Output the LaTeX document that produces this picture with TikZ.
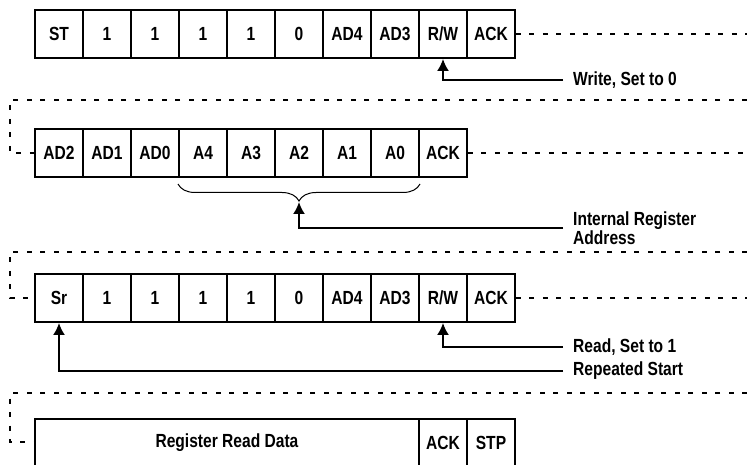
\documentclass[tikz,border=0pt]{standalone}
\usepackage{fontspec}
\setmainfont{Liberation Sans}[FakeStretch=0.82]
\usetikzlibrary{decorations.pathreplacing,arrows.meta}

\newcommand{\busfont}{\fontsize{19}{18.5}\selectfont\bfseries}

\begin{document}
\begin{tikzpicture}[x=1pt,y=-1pt,
	cell/.style={draw,line width=1.9pt,minimum width=48pt,minimum height=48pt,inner sep=0pt,font=\busfont},
	lbl/.style={anchor=west,inner sep=0pt,align=left,font=\busfont},
	link/.style={dash pattern=on 5pt off 8.5pt,line width=1.6pt},
	pointer/.style={-{Latex[length=12pt,width=12pt]},line width=1.9pt}]
\useasboundingbox (0,0) rectangle (747,465);
\clip (0,0) rectangle (747,465);

% first byte: slave address, write
\foreach \t [count=\i from 0] in {ST,1,1,1,1,0,AD4,AD3,{R/W},ACK}
{
	\path (59+48*\i,34) node[cell] (ra\i) {\t};
}
\draw[link] (ra9.east) -- (747,34);
\path (573,80) node[lbl] (wr) {Write, Set to 0};
\draw[pointer] ([xshift=-10pt]wr.west) -| (ra8.south);

% second byte: register address
\draw[link] (747,100) -- (10,100) -- (10,153) -- (35,153);
\foreach \t [count=\i from 0] in {AD2,AD1,AD0,A4,A3,A2,A1,A0,ACK}
{
	\path (59+48*\i,153) node[cell] (rb\i) {\t};
}
\draw[link] (rb8.east) -- (747,153);
\draw[line width=1pt,decorate,decoration={brace,amplitude=17pt}] (420,184) -- (178,184);
\coordinate (btip) at (299,202);
\path (573,228) node[lbl] (ira) {Internal Register\\Address};
\draw[pointer] ([xshift=-10pt]ira.west) -| (btip);

% third byte: repeated start, read
\draw[link] (747,252) -- (10,252) -- (10,298) -- (35,298);
\foreach \t [count=\i from 0] in {Sr,1,1,1,1,0,AD4,AD3,{R/W},ACK}
{
	\path (59+48*\i,298) node[cell] (rc\i) {\t};
}
\draw[link] (rc9.east) -- (747,298);
\path (573,347) node[lbl] (rd) {Read, Set to 1};
\path (573,371) node[lbl] (rs) {Repeated Start};
\draw[pointer] ([xshift=-10pt]rd.west) -| (rc8.south);
\draw[pointer] ([xshift=-10pt]rs.west) -| (rc0.south);

% data byte
\draw[link] (747,393) -- (10,393) -- (10,442) -- (35,442);
\path (227,443) node[cell,minimum width=384pt] (data) {Register Read Data};
\path (443,443) node[cell] (dack) {ACK};
\path (491,443) node[cell] (stp) {STP};

\end{tikzpicture}
\end{document}
